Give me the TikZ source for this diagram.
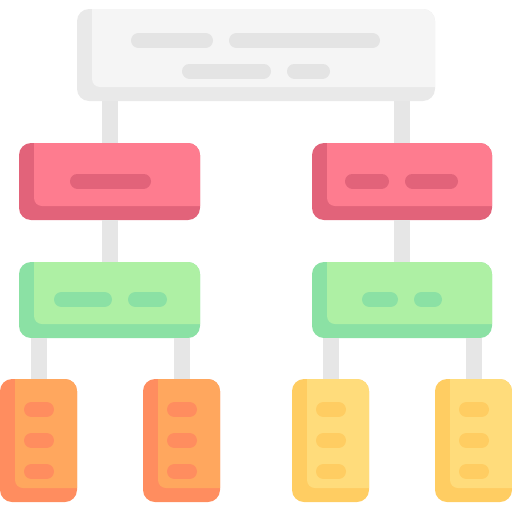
\documentclass[tikz,border=0pt]{standalone}
\usetikzlibrary{calc}
\definecolor{gface}{HTML}{F5F5F5}
\definecolor{gshade}{HTML}{E9E9E9}
\definecolor{gbar}{HTML}{E4E4E4}
\definecolor{conn}{HTML}{E6E6E6}
\definecolor{rface}{HTML}{FE7C8F}
\definecolor{rshade}{HTML}{E2637A}
\definecolor{grface}{HTML}{AEF0A4}
\definecolor{grshade}{HTML}{8BE1A4}
\definecolor{oface}{HTML}{FFA75E}
\definecolor{oshade}{HTML}{FF8D5F}
\definecolor{yface}{HTML}{FFDC7B}
\definecolor{yshade}{HTML}{FFCD62}
\tikzset{
  card/.style={inner sep=0pt, outer sep=0pt, rounded corners=12pt, draw=none},
  connector/.style={draw=conn, line width=16pt},
  barline/.style={line width=15pt, line cap=round},
}
\newcommand\mkcard[7]{%
  \node[card, fill=#6, minimum width={(#4-#2)*1pt}, minimum height={(#5-#3)*1pt}]
    (#1) at ({(#2+#4)/2},{(#3+#5)/2}) {};
  \begin{scope}
    \clip[rounded corners=12pt] (#1.south west) rectangle (#1.north east);
    \fill[#7, rounded corners=8pt] ([xshift=15pt,yshift=20pt]#1.north west)
      rectangle ([xshift=20pt,yshift=14pt]#1.south east);
  \end{scope}}
\newcommand\mkbar[4]{\draw[barline, draw=#1] ({#2+7.5},#4) -- ({#3-7.5},#4);}
\begin{document}
\begin{tikzpicture}[x=1pt,y=-1pt]
\useasboundingbox (0,0) rectangle (512,512);
\mkcard{top}{77}{9}{435}{101}{gshade}{gface}
\mkcard{redL}{19}{143}{200}{220}{rshade}{rface}
\mkcard{redR}{312}{143}{492}{220}{rshade}{rface}
\mkcard{grnL}{19}{262}{200}{338}{grshade}{grface}
\mkcard{grnR}{312}{262}{492}{338}{grshade}{grface}
\mkcard{orA}{0}{379}{77}{502}{oshade}{oface}
\mkcard{orB}{143}{379}{220}{502}{oshade}{oface}
\mkcard{yeA}{292}{379}{369}{502}{yshade}{yface}
\mkcard{yeB}{435}{379}{512}{502}{yshade}{yface}
% connectors
\draw[connector] (top.south -| redL) -- (redL.north);
\draw[connector] (top.south -| redR) -- (redR.north);
\draw[connector] (redL.south) -- (grnL.north);
\draw[connector] (redR.south) -- (grnR.north);
\draw[connector] (grnL.south -| orA) -- (orA.north);
\draw[connector] (grnL.south -| orB) -- (orB.north);
\draw[connector] (grnR.south -| yeA) -- (yeA.north);
\draw[connector] (grnR.south -| yeB) -- (yeB.north);
% bars
\mkbar{gbar}{131}{213}{40.5}
\mkbar{gbar}{229}{380}{40.5}
\mkbar{gbar}{182}{271}{71}
\mkbar{gbar}{287}{330}{71}
\mkbar{rshade}{70}{151}{181}
\mkbar{rshade}{345}{389}{181}
\mkbar{rshade}{405}{458}{181}
\mkbar{grshade}{54}{112}{299.5}
\mkbar{grshade}{128}{167}{299.5}
\mkbar{grshade}{362}{398}{299.5}
\mkbar{grshade}{414}{442}{299.5}
\foreach \yy in {409.5,440.5,471.5}{
  \mkbar{oshade}{24}{54}{\yy}
  \mkbar{oshade}{167}{197}{\yy}
  \mkbar{yshade}{316}{346}{\yy}
  \mkbar{yshade}{459}{489}{\yy}
}
\end{tikzpicture}
\end{document}
